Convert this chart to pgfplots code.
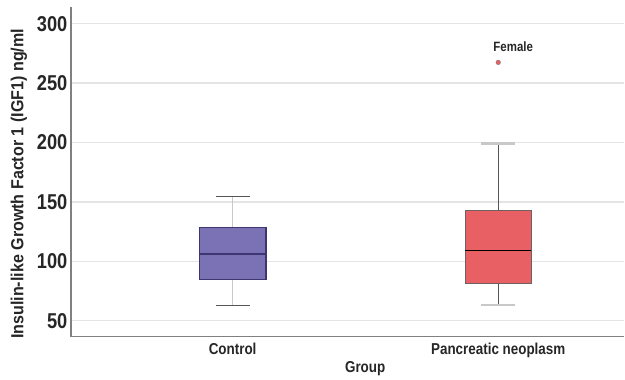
\documentclass[border=0pt]{standalone}
\usepackage{pgfplots}
\pgfplotsset{compat=1.18}
\usepackage{fontspec}
\setmainfont{Liberation Sans}[FakeStretch=0.85]
\newfontfamily\labfont{Liberation Sans}[FakeStretch=0.92]
\definecolor{ctrlfill}{HTML}{7B72B6}
\definecolor{ctrledge}{HTML}{3E3670}
\definecolor{pancfill}{HTML}{E86064}
\definecolor{pancedge}{HTML}{4A3A3A}
\definecolor{lightcap}{HTML}{C8C8C8}
\definecolor{darkcap}{HTML}{555555}
\definecolor{gridc}{HTML}{E4E4E4}
\definecolor{axisc}{HTML}{808080}
\begin{document}
\begin{tikzpicture}
\begin{axis}[
  scale only axis,
  width=554pt, height=330pt,
  xmin=0.391, xmax=2.474,
  ymin=36.8, ymax=314,
  xtick={1,2},
  xticklabels={Control, Pancreatic neoplasm},
  ytick={50,100,150,200,250,300},
  ymajorgrids,
  grid style={line width=1.3pt, color=gridc},
  tick style={draw=none},
  axis x line*=bottom, axis y line*=left,
  axis line style={-, draw=axisc, line width=1.8pt},
  /pgf/number format/assume math mode=true,
  yticklabel style={font=\fontsize{21.5}{21.5}\selectfont\bfseries, text=black!85},
  xticklabel style={font=\fontsize{15.8}{15.8}\selectfont\bfseries, text=black!85, anchor=base, yshift=-18.3pt},
  xlabel={Group},
  ylabel={Insulin-like Growth Factor 1 (IGF1) ng/ml},
  every axis x label/.style={at={(axis description cs:0.532,0)}, anchor=center, yshift=-32.2pt,
    font=\fontsize{15.8}{15.8}\selectfont\bfseries, text=black!85},
  every axis y label/.style={at={(axis description cs:-0.0939,0.463)}, anchor=center, rotate=90,
    font=\labfont\fontsize{17.5}{17.5}\selectfont\bfseries, text=black!85},
  clip=false,
]
% Control: whiskers (light vertical, dark caps)
\addplot[draw=lightcap, line width=1.5pt] coordinates {(1,128.3) (1,154.6)};
\addplot[draw=lightcap, line width=1.5pt] coordinates {(1,84.8) (1,62.9)};
\addplot[draw=darkcap, line width=1.5pt] coordinates {(0.936,154.6) (1.064,154.6)};
\addplot[draw=darkcap, line width=1.5pt] coordinates {(0.936,62.9) (1.064,62.9)};
% Control box
\addplot[fill=ctrlfill, draw=ctrledge, line width=1.3pt] coordinates
  {(0.874,84.8) (1.126,84.8) (1.126,128.3) (0.874,128.3)} -- cycle;
\addplot[draw=ctrledge, line width=1.6pt] coordinates {(0.874,106.4) (1.126,106.4)};
% Pancreatic neoplasm: whiskers (dark vertical, light caps)
\addplot[draw=darkcap, line width=1.2pt] coordinates {(2,142.6) (2,199)};
\addplot[draw=darkcap, line width=1.2pt] coordinates {(2,81.7) (2,63.5)};
\addplot[draw=lightcap, line width=2.5pt] coordinates {(1.936,199) (2.064,199)};
\addplot[draw=lightcap, line width=2.5pt] coordinates {(1.936,63.5) (2.064,63.5)};
% Pancreatic box
\addplot[fill=pancfill, draw=pancedge!80, line width=0.9pt] coordinates
  {(1.875,81.7) (2.125,81.7) (2.125,142.6) (1.875,142.6)} -- cycle;
\addplot[draw=black, line width=1.3pt] coordinates {(1.875,109) (2.125,109)};
% outlier
\addplot[only marks, mark=*, mark size=2.3pt, mark options={fill=pancfill, draw=pancedge!70}]
  coordinates {(2,267.4)};
\node[font=\fontsize{13.5}{13.5}\selectfont\bfseries, text=black!85, xshift=15pt] at (axis cs:2,281) {Female};
\end{axis}
\path (current axis.south west) ++(-71pt,-42.3pt) coordinate (bbA);
\path (current axis.north east) ++(0pt,7pt) coordinate (bbB);
\path (bbA) rectangle (bbB);
\end{tikzpicture}
\end{document}
